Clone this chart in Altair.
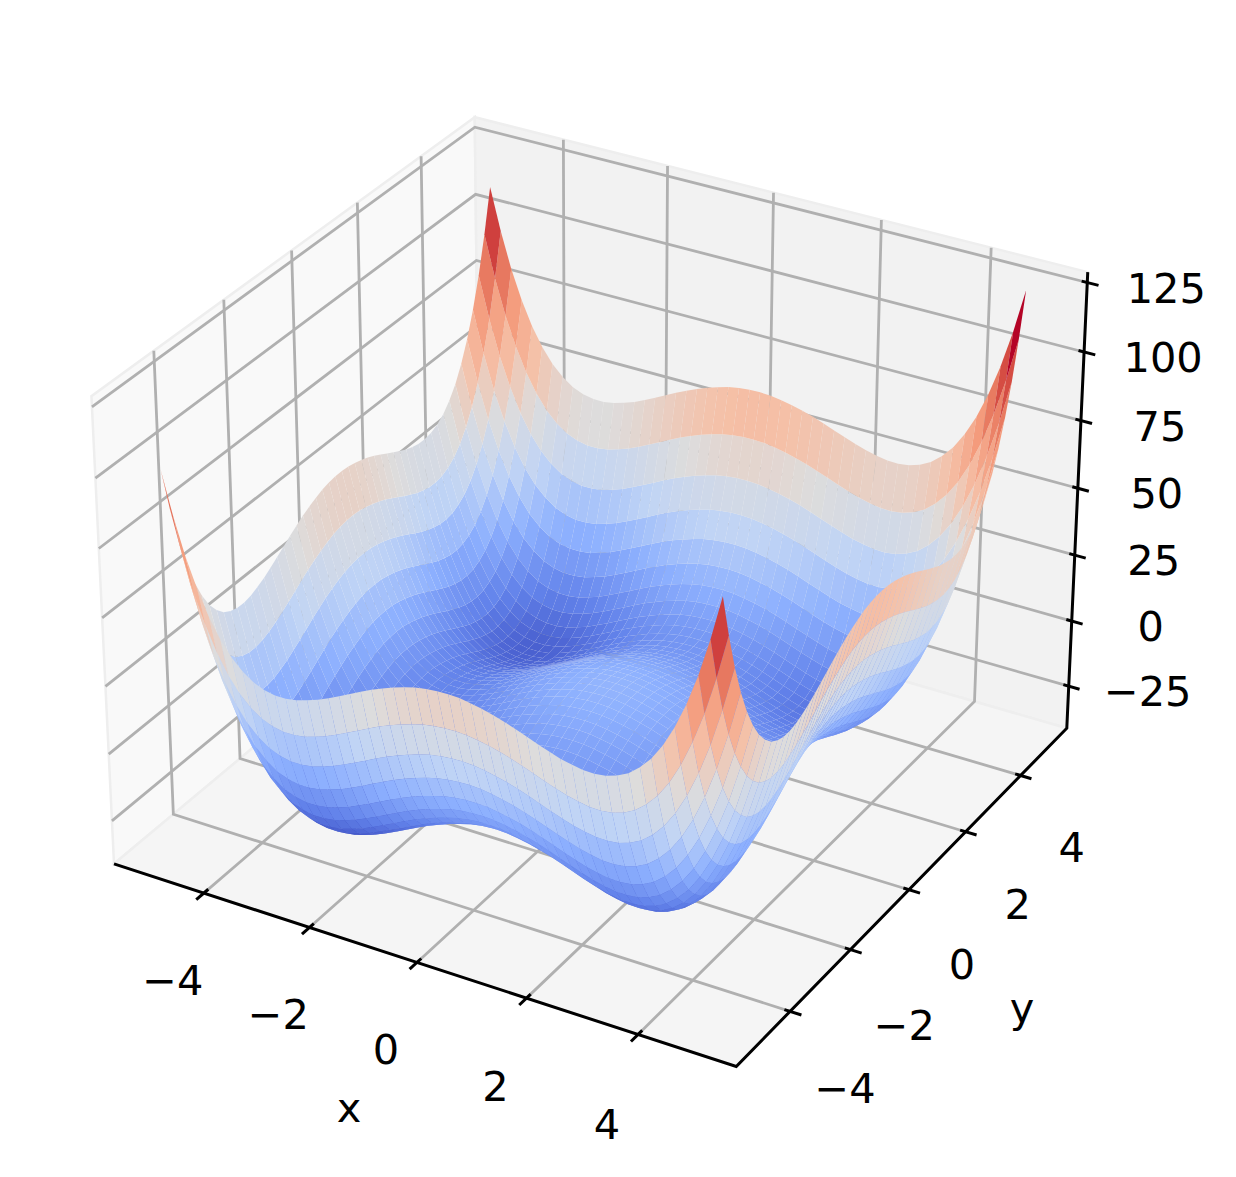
import numpy as np
import altair as alt

alt.data_transformers.disable_max_rows()

X_VALUES = [-5,-4.8,-4.6,-4.4,-4.2,-4,-3.8,-3.6,-3.4,-3.2,-3,-2.8,-2.6,-2.4,-2.2,-2,-1.8,-1.6,-1.4,-1.2,-1,-0.8,-0.6,-0.4,-0.2,0,0.2,0.4,0.6,0.8,1,1.2,1.4,1.6,1.8,2,2.2,2.4,2.6,2.8,3,3.2,3.4,3.6,3.8,4,4.2,4.4,4.6,4.8,5]
Y_VALUES = [-5,-4.8,-4.6,-4.4,-4.2,-4,-3.8,-3.6,-3.4,-3.2,-3,-2.8,-2.6,-2.4,-2.2,-2,-1.8,-1.6,-1.4,-1.2,-1,-0.8,-0.6,-0.4,-0.2,0,0.2,0.4,0.6,0.8,1,1.2,1.4,1.6,1.8,2,2.2,2.4,2.6,2.8,3,3.2,3.4,3.6,3.8,4,4.2,4.4,4.6,4.8,5]
Z_ROWS = [
[100,84.6,71.5,60.8,52,45,39.6,35.7,32.9,31.3,30.5,30.5,31.1,32.3,33.7,35.5,37.4,39.4,41.4,43.3,45,46.5,47.8,48.9,49.6,50,50.1,49.9,49.3,48.5,47.5,46.3,44.9,43.4,41.9,40.5,39.2,38.3,37.6,37.5,38,39.3,41.4,44.7,49.1,55,62.5,71.8,83,96.6,112.5],
[84.6,69.2,56.1,45.4,36.6,29.6,24.2,20.3,17.5,15.9,15.1,15.1,15.7,16.9,18.3,20.1,22,24,26,27.9,29.6,31.1,32.4,33.5,34.2,34.6,34.7,34.5,33.9,33.1,32.1,30.9,29.5,28,26.5,25.1,23.8,22.9,22.2,22.1,22.6,23.9,26,29.3,33.7,39.6,47.1,56.4,67.6,81.2,97.1],
[71.5,56.1,43,32.3,23.5,16.5,11.1,7.2,4.4,2.8,2,2,2.6,3.8,5.2,7,8.9,10.9,12.9,14.8,16.5,18,19.3,20.4,21.1,21.5,21.6,21.4,20.8,20,19,17.8,16.4,14.9,13.4,12,10.7,9.8,9.1,9,9.5,10.8,12.9,16.2,20.6,26.5,34,43.3,54.5,68.1,84],
[60.8,45.4,32.3,21.6,12.8,5.8,0.4,-3.5,-6.3,-7.9,-8.7,-8.7,-8.1,-6.9,-5.5,-3.7,-1.8,0.2,2.2,4.1,5.8,7.3,8.6,9.7,10.4,10.8,10.9,10.7,10.1,9.3,8.3,7.1,5.7,4.2,2.7,1.3,0,-0.9,-1.6,-1.7,-1.2,0.1,2.2,5.5,9.9,15.8,23.3,32.6,43.8,57.4,73.3],
[52,36.6,23.5,12.8,4,-3,-8.4,-12.3,-15.1,-16.7,-17.5,-17.5,-16.9,-15.7,-14.3,-12.5,-10.6,-8.6,-6.6,-4.7,-3,-1.5,-0.2,0.9,1.6,2,2.1,1.9,1.3,0.5,-0.5,-1.7,-3.1,-4.6,-6.1,-7.5,-8.8,-9.7,-10.4,-10.5,-10,-8.7,-6.6,-3.3,1.1,7,14.5,23.8,35,48.6,64.5],
[45,29.6,16.5,5.8,-3,-10,-15.4,-19.3,-22.1,-23.7,-24.5,-24.5,-23.9,-22.7,-21.3,-19.5,-17.6,-15.6,-13.6,-11.7,-10,-8.5,-7.2,-6.1,-5.4,-5,-4.9,-5.1,-5.7,-6.5,-7.5,-8.7,-10.1,-11.6,-13.1,-14.5,-15.8,-16.7,-17.4,-17.5,-17,-15.7,-13.6,-10.3,-5.9,0,7.5,16.8,28,41.6,57.5],
[39.6,24.2,11.1,0.4,-8.4,-15.4,-20.8,-24.7,-27.5,-29.1,-29.9,-29.9,-29.3,-28.1,-26.7,-24.9,-23,-21,-19,-17.1,-15.4,-13.9,-12.6,-11.5,-10.8,-10.4,-10.3,-10.5,-11.1,-11.9,-12.9,-14.1,-15.5,-17,-18.5,-19.9,-21.2,-22.1,-22.8,-22.9,-22.4,-21.1,-19,-15.7,-11.3,-5.4,2.1,11.4,22.6,36.2,52.1],
[35.7,20.3,7.2,-3.5,-12.3,-19.3,-24.7,-28.6,-31.4,-33,-33.8,-33.8,-33.2,-32,-30.6,-28.8,-26.9,-24.9,-22.9,-21,-19.3,-17.8,-16.5,-15.4,-14.7,-14.3,-14.2,-14.4,-15,-15.8,-16.8,-18,-19.4,-20.9,-22.4,-23.8,-25.1,-26,-26.7,-26.8,-26.3,-25,-22.9,-19.6,-15.2,-9.3,-1.8,7.5,18.7,32.3,48.2],
[32.9,17.5,4.4,-6.3,-15.1,-22.1,-27.5,-31.4,-34.2,-35.8,-36.6,-36.6,-36,-34.8,-33.4,-31.6,-29.7,-27.7,-25.7,-23.8,-22.1,-20.6,-19.3,-18.2,-17.5,-17.1,-17,-17.2,-17.8,-18.6,-19.6,-20.8,-22.2,-23.7,-25.2,-26.6,-27.9,-28.8,-29.5,-29.6,-29.1,-27.8,-25.7,-22.4,-18,-12.1,-4.6,4.7,15.9,29.5,45.4],
[31.3,15.9,2.8,-7.9,-16.7,-23.7,-29.1,-33,-35.8,-37.4,-38.2,-38.2,-37.6,-36.4,-35,-33.2,-31.3,-29.3,-27.3,-25.4,-23.7,-22.2,-20.9,-19.8,-19.1,-18.7,-18.6,-18.8,-19.4,-20.2,-21.2,-22.4,-23.8,-25.3,-26.8,-28.2,-29.5,-30.4,-31.1,-31.2,-30.7,-29.4,-27.3,-24,-19.6,-13.7,-6.2,3.1,14.3,27.9,43.8],
[30.5,15.1,2,-8.7,-17.5,-24.5,-29.9,-33.8,-36.6,-38.2,-39,-39,-38.4,-37.2,-35.8,-34,-32.1,-30.1,-28.1,-26.2,-24.5,-23,-21.7,-20.6,-19.9,-19.5,-19.4,-19.6,-20.2,-21,-22,-23.2,-24.6,-26.1,-27.6,-29,-30.3,-31.2,-31.9,-32,-31.5,-30.2,-28.1,-24.8,-20.4,-14.5,-7,2.3,13.5,27.1,43],
[30.5,15.1,2,-8.7,-17.5,-24.5,-29.9,-33.8,-36.6,-38.2,-39,-39,-38.4,-37.2,-35.8,-34,-32.1,-30.1,-28.1,-26.2,-24.5,-23,-21.7,-20.6,-19.9,-19.5,-19.4,-19.6,-20.2,-21,-22,-23.2,-24.6,-26.1,-27.6,-29,-30.3,-31.2,-31.9,-32,-31.5,-30.2,-28.1,-24.8,-20.4,-14.5,-7,2.3,13.5,27.1,43],
[31.1,15.7,2.6,-8.1,-16.9,-23.9,-29.3,-33.2,-36,-37.6,-38.4,-38.4,-37.8,-36.6,-35.2,-33.4,-31.5,-29.5,-27.5,-25.6,-23.9,-22.4,-21.1,-20,-19.3,-18.9,-18.8,-19,-19.6,-20.4,-21.4,-22.6,-24,-25.5,-27,-28.4,-29.7,-30.6,-31.3,-31.4,-30.9,-29.6,-27.5,-24.2,-19.8,-13.9,-6.4,2.9,14.1,27.7,43.6],
[32.3,16.9,3.8,-6.9,-15.7,-22.7,-28.1,-32,-34.8,-36.4,-37.2,-37.2,-36.6,-35.4,-34,-32.2,-30.3,-28.3,-26.3,-24.4,-22.7,-21.2,-19.9,-18.8,-18.1,-17.7,-17.6,-17.8,-18.4,-19.2,-20.2,-21.4,-22.8,-24.3,-25.8,-27.2,-28.5,-29.4,-30.1,-30.2,-29.7,-28.4,-26.3,-23,-18.6,-12.7,-5.2,4.1,15.3,28.9,44.8],
[33.7,18.3,5.2,-5.5,-14.3,-21.3,-26.7,-30.6,-33.4,-35,-35.8,-35.8,-35.2,-34,-32.6,-30.8,-28.9,-26.9,-24.9,-23,-21.3,-19.8,-18.5,-17.4,-16.7,-16.3,-16.2,-16.4,-17,-17.8,-18.8,-20,-21.4,-22.9,-24.4,-25.8,-27.1,-28,-28.7,-28.8,-28.3,-27,-24.9,-21.6,-17.2,-11.3,-3.8,5.5,16.7,30.3,46.2],
[35.5,20.1,7,-3.7,-12.5,-19.5,-24.9,-28.8,-31.6,-33.2,-34,-34,-33.4,-32.2,-30.8,-29,-27.1,-25.1,-23.1,-21.2,-19.5,-18,-16.7,-15.6,-14.9,-14.5,-14.4,-14.6,-15.2,-16,-17,-18.2,-19.6,-21.1,-22.6,-24,-25.3,-26.2,-26.9,-27,-26.5,-25.2,-23.1,-19.8,-15.4,-9.5,-2,7.3,18.5,32.1,48],
[37.4,22,8.9,-1.8,-10.6,-17.6,-23,-26.9,-29.7,-31.3,-32.1,-32.1,-31.5,-30.3,-28.9,-27.1,-25.2,-23.2,-21.2,-19.3,-17.6,-16.1,-14.8,-13.7,-13,-12.6,-12.5,-12.7,-13.3,-14.1,-15.1,-16.3,-17.7,-19.2,-20.7,-22.1,-23.4,-24.3,-25,-25.1,-24.6,-23.3,-21.2,-17.9,-13.5,-7.6,-0.1,9.2,20.4,34,49.9],
[39.4,24,10.9,0.2,-8.6,-15.6,-21,-24.9,-27.7,-29.3,-30.1,-30.1,-29.5,-28.3,-26.9,-25.1,-23.2,-21.2,-19.2,-17.3,-15.6,-14.1,-12.8,-11.7,-11,-10.6,-10.5,-10.7,-11.3,-12.1,-13.1,-14.3,-15.7,-17.2,-18.7,-20.1,-21.4,-22.3,-23,-23.1,-22.6,-21.3,-19.2,-15.9,-11.5,-5.6,1.9,11.2,22.4,36,51.9],
[41.4,26,12.9,2.2,-6.6,-13.6,-19,-22.9,-25.7,-27.3,-28.1,-28.1,-27.5,-26.3,-24.9,-23.1,-21.2,-19.2,-17.2,-15.3,-13.6,-12.1,-10.8,-9.7,-9,-8.6,-8.5,-8.7,-9.3,-10.1,-11.1,-12.3,-13.7,-15.2,-16.7,-18.1,-19.4,-20.3,-21,-21.1,-20.6,-19.3,-17.2,-13.9,-9.5,-3.6,3.9,13.2,24.4,38,53.9],
[43.3,27.9,14.8,4.1,-4.7,-11.7,-17.1,-21,-23.8,-25.4,-26.2,-26.2,-25.6,-24.4,-23,-21.2,-19.3,-17.3,-15.3,-13.4,-11.7,-10.2,-8.9,-7.8,-7.1,-6.7,-6.6,-6.8,-7.4,-8.2,-9.2,-10.4,-11.8,-13.3,-14.8,-16.2,-17.5,-18.4,-19.1,-19.2,-18.7,-17.4,-15.3,-12,-7.6,-1.7,5.8,15.1,26.3,39.9,55.8],
[45,29.6,16.5,5.8,-3,-10,-15.4,-19.3,-22.1,-23.7,-24.5,-24.5,-23.9,-22.7,-21.3,-19.5,-17.6,-15.6,-13.6,-11.7,-10,-8.5,-7.2,-6.1,-5.4,-5,-4.9,-5.1,-5.7,-6.5,-7.5,-8.7,-10.1,-11.6,-13.1,-14.5,-15.8,-16.7,-17.4,-17.5,-17,-15.7,-13.6,-10.3,-5.9,0,7.5,16.8,28,41.6,57.5],
[46.5,31.1,18,7.3,-1.5,-8.5,-13.9,-17.8,-20.6,-22.2,-23,-23,-22.4,-21.2,-19.8,-18,-16.1,-14.1,-12.1,-10.2,-8.5,-7,-5.7,-4.6,-3.9,-3.5,-3.4,-3.6,-4.2,-5,-6,-7.2,-8.6,-10.1,-11.6,-13,-14.3,-15.2,-15.9,-16,-15.5,-14.2,-12.1,-8.8,-4.4,1.5,9,18.3,29.5,43.1,59],
[47.8,32.4,19.3,8.6,-0.2,-7.2,-12.6,-16.5,-19.3,-20.9,-21.7,-21.7,-21.1,-19.9,-18.5,-16.7,-14.8,-12.8,-10.8,-8.9,-7.2,-5.7,-4.4,-3.3,-2.6,-2.2,-2.1,-2.3,-2.9,-3.7,-4.7,-5.9,-7.3,-8.8,-10.3,-11.7,-13,-13.9,-14.6,-14.7,-14.2,-12.9,-10.8,-7.5,-3.1,2.8,10.3,19.6,30.8,44.4,60.3],
[48.9,33.5,20.4,9.7,0.9,-6.1,-11.5,-15.4,-18.2,-19.8,-20.6,-20.6,-20,-18.8,-17.4,-15.6,-13.7,-11.7,-9.7,-7.8,-6.1,-4.6,-3.3,-2.2,-1.5,-1.1,-1,-1.2,-1.8,-2.6,-3.6,-4.8,-6.2,-7.7,-9.2,-10.6,-11.9,-12.8,-13.5,-13.6,-13.1,-11.8,-9.7,-6.4,-2,3.9,11.4,20.7,31.9,45.5,61.4],
[49.6,34.2,21.1,10.4,1.6,-5.4,-10.8,-14.7,-17.5,-19.1,-19.9,-19.9,-19.3,-18.1,-16.7,-14.9,-13,-11,-9,-7.1,-5.4,-3.9,-2.6,-1.5,-0.8,-0.4,-0.3,-0.5,-1.1,-1.9,-2.9,-4.1,-5.5,-7,-8.5,-9.9,-11.2,-12.1,-12.8,-12.9,-12.4,-11.1,-9,-5.7,-1.3,4.6,12.1,21.4,32.6,46.2,62.1],
[50,34.6,21.5,10.8,2,-5,-10.4,-14.3,-17.1,-18.7,-19.5,-19.5,-18.9,-17.7,-16.3,-14.5,-12.6,-10.6,-8.6,-6.7,-5,-3.5,-2.2,-1.1,-0.4,0,0.1,-0.1,-0.7,-1.5,-2.5,-3.7,-5.1,-6.6,-8.1,-9.5,-10.8,-11.7,-12.4,-12.5,-12,-10.7,-8.6,-5.3,-0.9,5,12.5,21.8,33,46.6,62.5],
[50.1,34.7,21.6,10.9,2.1,-4.9,-10.3,-14.2,-17,-18.6,-19.4,-19.4,-18.8,-17.6,-16.2,-14.4,-12.5,-10.5,-8.5,-6.6,-4.9,-3.4,-2.1,-1,-0.3,0.1,0.2,0,-0.6,-1.4,-2.4,-3.6,-5,-6.5,-8,-9.4,-10.7,-11.6,-12.3,-12.4,-11.9,-10.6,-8.5,-5.2,-0.8,5.1,12.6,21.9,33.1,46.7,62.6],
[49.9,34.5,21.4,10.7,1.9,-5.1,-10.5,-14.4,-17.2,-18.8,-19.6,-19.6,-19,-17.8,-16.4,-14.6,-12.7,-10.7,-8.7,-6.8,-5.1,-3.6,-2.3,-1.2,-0.5,-0.1,0,-0.2,-0.8,-1.6,-2.6,-3.8,-5.2,-6.7,-8.2,-9.6,-10.9,-11.8,-12.5,-12.6,-12.1,-10.8,-8.7,-5.4,-1,4.9,12.4,21.7,32.9,46.5,62.4],
[49.3,33.9,20.8,10.1,1.3,-5.7,-11.1,-15,-17.8,-19.4,-20.2,-20.2,-19.6,-18.4,-17,-15.2,-13.3,-11.3,-9.3,-7.4,-5.7,-4.2,-2.9,-1.8,-1.1,-0.7,-0.6,-0.8,-1.4,-2.2,-3.2,-4.4,-5.8,-7.3,-8.8,-10.2,-11.5,-12.4,-13.1,-13.2,-12.7,-11.4,-9.3,-6,-1.6,4.3,11.8,21.1,32.3,45.9,61.8],
[48.5,33.1,20,9.3,0.5,-6.5,-11.9,-15.8,-18.6,-20.2,-21,-21,-20.4,-19.2,-17.8,-16,-14.1,-12.1,-10.1,-8.2,-6.5,-5,-3.7,-2.6,-1.9,-1.5,-1.4,-1.6,-2.2,-3,-4,-5.2,-6.6,-8.1,-9.6,-11,-12.3,-13.2,-13.9,-14,-13.5,-12.2,-10.1,-6.8,-2.4,3.5,11,20.3,31.5,45.1,61],
[47.5,32.1,19,8.3,-0.5,-7.5,-12.9,-16.8,-19.6,-21.2,-22,-22,-21.4,-20.2,-18.8,-17,-15.1,-13.1,-11.1,-9.2,-7.5,-6,-4.7,-3.6,-2.9,-2.5,-2.4,-2.6,-3.2,-4,-5,-6.2,-7.6,-9.1,-10.6,-12,-13.3,-14.2,-14.9,-15,-14.5,-13.2,-11.1,-7.8,-3.4,2.5,10,19.3,30.5,44.1,60],
[46.3,30.9,17.8,7.1,-1.7,-8.7,-14.1,-18,-20.8,-22.4,-23.2,-23.2,-22.6,-21.4,-20,-18.2,-16.3,-14.3,-12.3,-10.4,-8.7,-7.2,-5.9,-4.8,-4.1,-3.7,-3.6,-3.8,-4.4,-5.2,-6.2,-7.4,-8.8,-10.3,-11.8,-13.2,-14.5,-15.4,-16.1,-16.2,-15.7,-14.4,-12.3,-9,-4.6,1.3,8.8,18.1,29.3,42.9,58.8],
[44.9,29.5,16.4,5.7,-3.1,-10.1,-15.5,-19.4,-22.2,-23.8,-24.6,-24.6,-24,-22.8,-21.4,-19.6,-17.7,-15.7,-13.7,-11.8,-10.1,-8.6,-7.3,-6.2,-5.5,-5.1,-5,-5.2,-5.8,-6.6,-7.6,-8.8,-10.2,-11.7,-13.2,-14.6,-15.9,-16.8,-17.5,-17.6,-17.1,-15.8,-13.7,-10.4,-6,-0.1,7.4,16.7,27.9,41.5,57.4],
[43.4,28,14.9,4.2,-4.6,-11.6,-17,-20.9,-23.7,-25.3,-26.1,-26.1,-25.5,-24.3,-22.9,-21.1,-19.2,-17.2,-15.2,-13.3,-11.6,-10.1,-8.8,-7.7,-7,-6.6,-6.5,-6.7,-7.3,-8.1,-9.1,-10.3,-11.7,-13.2,-14.7,-16.1,-17.4,-18.3,-19,-19.1,-18.6,-17.3,-15.2,-11.9,-7.5,-1.6,5.9,15.2,26.4,40,55.9],
[41.9,26.5,13.4,2.7,-6.1,-13.1,-18.5,-22.4,-25.2,-26.8,-27.6,-27.6,-27,-25.8,-24.4,-22.6,-20.7,-18.7,-16.7,-14.8,-13.1,-11.6,-10.3,-9.2,-8.5,-8.1,-8,-8.2,-8.8,-9.6,-10.6,-11.8,-13.2,-14.7,-16.2,-17.6,-18.9,-19.8,-20.5,-20.6,-20.1,-18.8,-16.7,-13.4,-9,-3.1,4.4,13.7,24.9,38.5,54.4],
[40.5,25.1,12,1.3,-7.5,-14.5,-19.9,-23.8,-26.6,-28.2,-29,-29,-28.4,-27.2,-25.8,-24,-22.1,-20.1,-18.1,-16.2,-14.5,-13,-11.7,-10.6,-9.9,-9.5,-9.4,-9.6,-10.2,-11,-12,-13.2,-14.6,-16.1,-17.6,-19,-20.3,-21.2,-21.9,-22,-21.5,-20.2,-18.1,-14.8,-10.4,-4.5,3,12.3,23.5,37.1,53],
[39.2,23.8,10.7,0,-8.8,-15.8,-21.2,-25.1,-27.9,-29.5,-30.3,-30.3,-29.7,-28.5,-27.1,-25.3,-23.4,-21.4,-19.4,-17.5,-15.8,-14.3,-13,-11.9,-11.2,-10.8,-10.7,-10.9,-11.5,-12.3,-13.3,-14.5,-15.9,-17.4,-18.9,-20.3,-21.6,-22.5,-23.2,-23.3,-22.8,-21.5,-19.4,-16.1,-11.7,-5.8,1.7,11,22.2,35.8,51.7],
[38.3,22.9,9.8,-0.9,-9.7,-16.7,-22.1,-26,-28.8,-30.4,-31.2,-31.2,-30.6,-29.4,-28,-26.2,-24.3,-22.3,-20.3,-18.4,-16.7,-15.2,-13.9,-12.8,-12.1,-11.7,-11.6,-11.8,-12.4,-13.2,-14.2,-15.4,-16.8,-18.3,-19.8,-21.2,-22.5,-23.4,-24.1,-24.2,-23.7,-22.4,-20.3,-17,-12.6,-6.7,0.8,10.1,21.3,34.9,50.8],
[37.6,22.2,9.1,-1.6,-10.4,-17.4,-22.8,-26.7,-29.5,-31.1,-31.9,-31.9,-31.3,-30.1,-28.7,-26.9,-25,-23,-21,-19.1,-17.4,-15.9,-14.6,-13.5,-12.8,-12.4,-12.3,-12.5,-13.1,-13.9,-14.9,-16.1,-17.5,-19,-20.5,-21.9,-23.2,-24.1,-24.8,-24.9,-24.4,-23.1,-21,-17.7,-13.3,-7.4,0.1,9.4,20.6,34.2,50.1],
[37.5,22.1,9,-1.7,-10.5,-17.5,-22.9,-26.8,-29.6,-31.2,-32,-32,-31.4,-30.2,-28.8,-27,-25.1,-23.1,-21.1,-19.2,-17.5,-16,-14.7,-13.6,-12.9,-12.5,-12.4,-12.6,-13.2,-14,-15,-16.2,-17.6,-19.1,-20.6,-22,-23.3,-24.2,-24.9,-25,-24.5,-23.2,-21.1,-17.8,-13.4,-7.5,0,9.3,20.5,34.1,50],
[38,22.6,9.5,-1.2,-10,-17,-22.4,-26.3,-29.1,-30.7,-31.5,-31.5,-30.9,-29.7,-28.3,-26.5,-24.6,-22.6,-20.6,-18.7,-17,-15.5,-14.2,-13.1,-12.4,-12,-11.9,-12.1,-12.7,-13.5,-14.5,-15.7,-17.1,-18.6,-20.1,-21.5,-22.8,-23.7,-24.4,-24.5,-24,-22.7,-20.6,-17.3,-12.9,-7,0.5,9.8,21,34.6,50.5],
[39.3,23.9,10.8,0.1,-8.7,-15.7,-21.1,-25,-27.8,-29.4,-30.2,-30.2,-29.6,-28.4,-27,-25.2,-23.3,-21.3,-19.3,-17.4,-15.7,-14.2,-12.9,-11.8,-11.1,-10.7,-10.6,-10.8,-11.4,-12.2,-13.2,-14.4,-15.8,-17.3,-18.8,-20.2,-21.5,-22.4,-23.1,-23.2,-22.7,-21.4,-19.3,-16,-11.6,-5.7,1.8,11.1,22.3,35.9,51.8],
[41.4,26,12.9,2.2,-6.6,-13.6,-19,-22.9,-25.7,-27.3,-28.1,-28.1,-27.5,-26.3,-24.9,-23.1,-21.2,-19.2,-17.2,-15.3,-13.6,-12.1,-10.8,-9.7,-9,-8.6,-8.5,-8.7,-9.3,-10.1,-11.1,-12.3,-13.7,-15.2,-16.7,-18.1,-19.4,-20.3,-21,-21.1,-20.6,-19.3,-17.2,-13.9,-9.5,-3.6,3.9,13.2,24.4,38,53.9],
[44.7,29.3,16.2,5.5,-3.3,-10.3,-15.7,-19.6,-22.4,-24,-24.8,-24.8,-24.2,-23,-21.6,-19.8,-17.9,-15.9,-13.9,-12,-10.3,-8.8,-7.5,-6.4,-5.7,-5.3,-5.2,-5.4,-6,-6.8,-7.8,-9,-10.4,-11.9,-13.4,-14.8,-16.1,-17,-17.7,-17.8,-17.3,-16,-13.9,-10.6,-6.2,-0.3,7.2,16.5,27.7,41.3,57.2],
[49.1,33.7,20.6,9.9,1.1,-5.9,-11.3,-15.2,-18,-19.6,-20.4,-20.4,-19.8,-18.6,-17.2,-15.4,-13.5,-11.5,-9.5,-7.6,-5.9,-4.4,-3.1,-2,-1.3,-0.9,-0.8,-1,-1.6,-2.4,-3.4,-4.6,-6,-7.5,-9,-10.4,-11.7,-12.6,-13.3,-13.4,-12.9,-11.6,-9.5,-6.2,-1.8,4.1,11.6,20.9,32.1,45.7,61.6],
[55,39.6,26.5,15.8,7,0,-5.4,-9.3,-12.1,-13.7,-14.5,-14.5,-13.9,-12.7,-11.3,-9.5,-7.6,-5.6,-3.6,-1.7,0,1.5,2.8,3.9,4.6,5,5.1,4.9,4.3,3.5,2.5,1.3,-0.1,-1.6,-3.1,-4.5,-5.8,-6.7,-7.4,-7.5,-7,-5.7,-3.6,-0.3,4.1,10,17.5,26.8,38,51.6,67.5],
[62.5,47.1,34,23.3,14.5,7.5,2.1,-1.8,-4.6,-6.2,-7,-7,-6.4,-5.2,-3.8,-2,-0.1,1.9,3.9,5.8,7.5,9,10.3,11.4,12.1,12.5,12.6,12.4,11.8,11,10,8.8,7.4,5.9,4.4,3,1.7,0.8,0.1,0,0.5,1.8,3.9,7.2,11.6,17.5,25,34.3,45.5,59.1,75],
[71.8,56.4,43.3,32.6,23.8,16.8,11.4,7.5,4.7,3.1,2.3,2.3,2.9,4.1,5.5,7.3,9.2,11.2,13.2,15.1,16.8,18.3,19.6,20.7,21.4,21.8,21.9,21.7,21.1,20.3,19.3,18.1,16.7,15.2,13.7,12.3,11,10.1,9.4,9.3,9.8,11.1,13.2,16.5,20.9,26.8,34.3,43.6,54.8,68.4,84.3],
[83,67.6,54.5,43.8,35,28,22.6,18.7,15.9,14.3,13.5,13.5,14.1,15.3,16.7,18.5,20.4,22.4,24.4,26.3,28,29.5,30.8,31.9,32.6,33,33.1,32.9,32.3,31.5,30.5,29.3,27.9,26.4,24.9,23.5,22.2,21.3,20.6,20.5,21,22.3,24.4,27.7,32.1,38,45.5,54.8,66,79.6,95.5],
[96.6,81.2,68.1,57.4,48.6,41.6,36.2,32.3,29.5,27.9,27.1,27.1,27.7,28.9,30.3,32.1,34,36,38,39.9,41.6,43.1,44.4,45.5,46.2,46.6,46.7,46.5,45.9,45.1,44.1,42.9,41.5,40,38.5,37.1,35.8,34.9,34.2,34.1,34.6,35.9,38,41.3,45.7,51.6,59.1,68.4,79.6,93.2,109.1],
[112.5,97.1,84,73.3,64.5,57.5,52.1,48.2,45.4,43.8,43,43,43.6,44.8,46.2,48,49.9,51.9,53.9,55.8,57.5,59,60.3,61.4,62.1,62.5,62.6,62.4,61.8,61,60,58.8,57.4,55.9,54.4,53,51.7,50.8,50.1,50,50.5,51.8,53.9,57.2,61.6,67.5,75,84.3,95.5,109.1,125],
]
X_TICKS = [-4, -2, 0, 2, 4]
Y_TICKS = [-4, -2, 0, 2, 4]
Z_TICKS = [-25, 0, 25, 50, 75, 100, 125]
COOLWARM = ["#3b4cc0", "#6282ea", "#8db0fe", "#c0d4f5", "#dddcdc", "#f5c0a7", "#f49a7b", "#dd5f4b", "#b40426"]

LIM = 5.73
ZMIN, ZMAX = -41.3, 128.7
W, H = 1220, 1160
OFF = 8

# matplotlib-style view: elev 30, azim -60, box aspect 4:4:3, focal length 1
box = np.array([4.0, 4.0, 3.0]) * 1.8294640721620434 * 25 / 24 / np.linalg.norm([4, 4, 3])
R = box / 2
el, az = np.radians(30), np.radians(-60)
w_ = np.array([np.cos(el) * np.cos(az), np.cos(el) * np.sin(az), np.sin(el)])
eye = R + 10 * w_
u_ = np.cross([0, 0, 1], w_); u_ /= np.linalg.norm(u_)
v_ = np.cross(w_, u_)

def cam(x, y, z):
    p = np.array([(x + LIM) / (2 * LIM) * box[0], (y + LIM) / (2 * LIM) * box[1], (z - ZMIN) / (ZMAX - ZMIN) * box[2]])
    d = p - eye
    zc = d @ w_
    return (d @ u_) / -zc, (d @ v_) / -zc, zc

# the box's corners as seen in the picture fix the page scale of the projection
ANCHORS = [((-LIM, -LIM, ZMIN), (113, 862)), ((LIM, -LIM, ZMIN), (737, 1067)), ((LIM, LIM, ZMIN), (1067, 727)),
           ((LIM, LIM, ZMAX), (1087, 270)), ((-LIM, -LIM, ZMAX), (92, 403)), ((-LIM, LIM, ZMAX), (475, 115))]
A = np.array([cam(*a[0])[:2] for a in ANCHORS])
B = np.array([a[1] for a in ANCHORS], dtype=float) - OFF
sx = np.polyfit(A[:, 0], B[:, 0], 1)
sy = np.polyfit(A[:, 1], B[:, 1], 1)

def pt(x, y, z):
    a, b, _ = cam(x, y, z)
    return [float(sx[0] * a + sx[1]), float(sy[0] * b + sy[1])]

def line(points, **props):
    return {"type": "Feature", "properties": props, "geometry": {"type": "LineString", "coordinates": [pt(*p) for p in points]}}

def poly(points, **props):
    ring = [pt(*p) for p in points]
    ring.append(ring[0])
    return {"type": "Feature", "properties": props, "geometry": {"type": "Polygon", "coordinates": [ring]}}

PROJ = dict(type="identity", scale=1, translate=[0, 0])

def pane_layer(points, colour):
    return alt.Chart(alt.Data(values=[poly(points)])).mark_geoshape(fill=colour, stroke="#eeeeee", strokeWidth=2.5).project(**PROJ)

left_pane = pane_layer([(-LIM, -LIM, ZMIN), (-LIM, LIM, ZMIN), (-LIM, LIM, ZMAX), (-LIM, -LIM, ZMAX)], "#f9f9f9")
back_pane = pane_layer([(-LIM, LIM, ZMIN), (LIM, LIM, ZMIN), (LIM, LIM, ZMAX), (-LIM, LIM, ZMAX)], "#f2f2f2")
floor_pane = pane_layer([(-LIM, -LIM, ZMIN), (LIM, -LIM, ZMIN), (LIM, LIM, ZMIN), (-LIM, LIM, ZMIN)], "#f5f5f5")

grid = []
for t in X_TICKS:
    grid.append(line([(t, -LIM, ZMIN), (t, LIM, ZMIN), (t, LIM, ZMAX)]))
for t in Y_TICKS:
    grid.append(line([(LIM, t, ZMIN), (-LIM, t, ZMIN), (-LIM, t, ZMAX)]))
for t in Z_TICKS:
    grid.append(line([(-LIM, -LIM, t), (-LIM, LIM, t), (LIM, LIM, t)]))
grid_layer = alt.Chart(alt.Data(values=grid)).mark_geoshape(filled=False, stroke="#b0b0b0", strokeWidth=2.8).project(**PROJ)

axes = [line([(-LIM, -LIM, ZMIN), (LIM, -LIM, ZMIN), (LIM, LIM, ZMIN), (LIM, LIM, ZMAX)])]
for t in X_TICKS:
    axes.append(line([(t, -LIM - 0.22, ZMIN), (t, -LIM + 0.13, ZMIN)]))
for t in Y_TICKS:
    axes.append(line([(LIM - 0.1, t, ZMIN), (LIM + 0.2, t, ZMIN)]))
for t in Z_TICKS:
    axes.append(line([(LIM - 0.1, LIM, t), (LIM + 0.2, LIM, t)]))
axis_layer = alt.Chart(alt.Data(values=axes)).mark_geoshape(filled=False, stroke="#000000", strokeWidth=3).project(**PROJ)

cells = []
for j in range(len(Y_VALUES) - 1):
    for i in range(len(X_VALUES) - 1):
        corners = [(X_VALUES[i + a], Y_VALUES[j + b], Z_ROWS[j + b][i + a]) for a, b in [(0, 0), (1, 0), (1, 1), (0, 1)]]
        zm = float(np.mean([c[2] for c in corners]))
        depth = float(np.mean([cam(*c)[2] for c in corners]))
        cells.append((depth, poly(corners, z=round(zm, 2))))
cells.sort(key=lambda c: c[0])
features = [c[1] for c in cells]
zs = [f["properties"]["z"] for f in features]
dom = [float(v) for v in np.linspace(min(zs), max(zs), len(COOLWARM))]
surface = alt.Chart(alt.Data(values=features)).mark_geoshape(strokeWidth=0).encode(
    fill=alt.Fill("properties.z:Q", scale=alt.Scale(domain=dom, range=COOLWARM, interpolate="rgb"), legend=None)
).project(**PROJ)

def label(p, text, dx, dy):
    q = pt(*p)
    return {"lon": q[0] + dx, "lat": q[1] + dy, "t": text}

def fmt(v):
    return str(v).replace("-", "\u2212")

texts = []
for t in X_TICKS:
    texts.append(label((t, -LIM, ZMIN), fmt(t), -31, 90 + max(0, t - 1)))
for t in Y_TICKS:
    texts.append(label((LIM, t, ZMIN), fmt(t), 51 + (4 - t) * 0.5, 74 + (4 - t) * 0.75))
for t in Z_TICKS:
    texts.append(label((LIM, LIM, t), fmt(t), 79, 8))
texts.append({"lon": 349 - OFF, "lat": 1110 - OFF, "t": "x"})
texts.append({"lon": 1022 - OFF, "lat": 1010 - OFF, "t": "y"})
text_layer = alt.Chart(alt.Data(values=texts)).mark_text(
    font="DejaVu Sans", fontSize=41.5, color="#000000", align="center", baseline="middle"
).encode(longitude="lon:Q", latitude="lat:Q", text="t:N").project(**PROJ)

chart = alt.layer(left_pane, back_pane, floor_pane, grid_layer, axis_layer, surface, text_layer).properties(
    width=W, height=H, padding=0, autosize=alt.AutoSizeParams(type="none"), background="white"
).configure_view(stroke=None)

chart.save("out.html", embed_options={"renderer": "svg", "actions": False})
